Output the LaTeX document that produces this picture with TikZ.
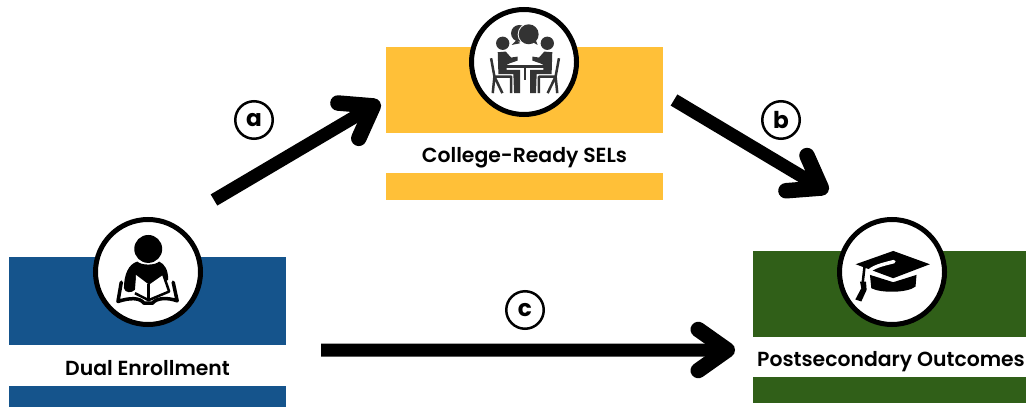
\documentclass[tikz,border=0pt]{standalone}
\usepackage{fontspec}
\setmainfont{Poppins}
\newfontfamily\bandfont{Poppins SemiBold}
\usetikzlibrary{arrows.meta}
\definecolor{enrollblue}{RGB}{21,84,140}
\definecolor{selyellow}{RGB}{255,192,56}
\definecolor{outgreen}{RGB}{48,95,24}
\definecolor{icongray}{RGB}{51,51,51}
\begin{document}
\begin{tikzpicture}
    \tikzstyle{proc} = [rectangle, minimum width=2.77cm, inner sep=0pt, outer sep=0pt]
    \tikzstyle{band} = [rectangle, fill=white, minimum width=2.77cm, minimum height=0.4cm, inner sep=0pt, outer sep=0pt, text=black, text height=0.19cm, text depth=0pt, font=\fontsize{5.8}{7}\bandfont]
    \tikzstyle{badge} = [circle, draw=black, fill=white, line width=0.05cm, minimum size=1.05cm, inner sep=0pt]
    \tikzstyle{tag} = [circle, draw=black, fill=white, line width=0.025cm, minimum size=0.375cm, inner sep=0pt, font=\fontsize{6.6}{8}\selectfont\bfseries]
    \tikzstyle{arrow} = [line width=0.13cm, -{Straight Barb[round, line width=0.155cm, length=0.29cm, width=0.41cm]}]
    \useasboundingbox (0,0) rectangle (10.26,4.07);
    % boxes
    \node (enroll) [proc, fill=enrollblue, minimum height=1.5cm] at (1.475,0.75) {};
    \node (enrolltxt) [band, minimum height=0.41cm] at (1.475,0.415) {Dual Enrollment};
    \node (sels) [proc, fill=selyellow, minimum height=1.53cm] at (5.245,2.835) {};
    \node (selstxt) [band] at (5.245,2.54) {College-Ready SELs};
    \node (outcome) [proc, fill=outgreen, minimum width=2.73cm, minimum height=1.52cm] at (8.895,0.8) {};
    \node (outcometxt) [band, minimum width=2.73cm] at (8.895,0.5) {\hspace*{0.03cm}Postsecondary Outcomes};
    % circles
    \node (enrollc) [badge] at (1.48,1.35) {};
    \node (selsc) [badge] at (5.24,3.45) {};
    \node (outcomec) [badge] at (8.92,1.35) {};
    % arrows
    \coordinate (astart) at (2.14,2.07);
    \coordinate (bstart) at (6.74,3.07);
    \draw[arrow] (astart) -- ([shift={(-0.06,0.215)}]sels.west);
    \draw[arrow] (bstart) -- ([shift={(-0.615,0.59)}]outcome.north);
    \draw[arrow] ([shift={(0.35,-0.18)}]enroll.east) -- ([shift={(-0.18,-0.23)}]outcome.west);
    \node (taga) [tag] at (2.54,2.87) {a};
    \node (tagb) [tag] at (7.81,2.87) {b};
    \node (tagc) [tag] at (5.25,0.97) {c};
    % reader
    \begin{scope}[shift={(1.00,1.82)},x=0.00333cm,y=-0.00333cm]
        \fill[black] (145,72) circle (42);
        \fill[black] (72,190) .. controls (72,150) and (85,118) .. (112,110) .. controls (125,122) and (165,122) .. (178,110) .. controls (195,118) and (205,135) .. (205,165) -- (148,190) -- (108,160) -- (105,195) .. controls (95,205) and (75,205) .. (72,190) -- cycle;
        \fill[white] (108,150) -- (145,178) -- (145,222) -- (108,198) -- cycle;
        \fill[white] (150,178) -- (190,150) -- (205,198) -- (150,222) -- cycle;
        \draw[black, line width=0.03cm, line join=round] (146,178) -- (146,228);
        \draw[black, line width=0.035cm, line join=round, line cap=round] (64,172) -- (54,230) .. controls (90,218) and (120,218) .. (132,235) -- (158,235) .. controls (170,218) and (205,218) .. (232,228) -- (220,172);
        \draw[black, line width=0.025cm, line join=round] (105,205) -- (146,226) -- (208,200) -- (190,148);
    \end{scope}
    % table talk
    \begin{scope}[shift={(5.25,3.92)},x=0.00333cm,y=-0.00333cm]
        \fill[icongray] (-17,55) circle (25);
        \fill[white] (11,58) circle (33);
        \fill[icongray] (11,58) circle (30);
        \fill[icongray] (20,80) -- (38,90) -- (30,70) -- cycle;
        \fill[icongray] (-25,75) -- (-40,90) -- (-15,85) -- cycle;
        \draw[icongray, line width=0.025cm] (-62,155) -- (62,155);
        \fill[icongray] (-3,155) -- (3,155) -- (3,195) -- (-3,195) -- cycle;
        \foreach \sgn in {1,-1} {
            \begin{scope}[xscale=\sgn]
                \fill[icongray] (-67,85) circle (20);
                \fill[icongray] (-82,112) -- (-58,110) -- (-42,128) -- (-22,125) -- (-22,137) -- (-45,145) -- (-55,150) -- (-55,165) -- (-15,165) -- (-15,235) -- (-33,235) -- (-35,178) -- (-80,178) -- cycle;
                \draw[icongray, line width=0.025cm, line join=round] (-102,130) -- (-92,185) -- (-68,235) (-92,185) -- (-42,185) -- (-42,235) (-92,185) -- (-97,235);
            \end{scope}
        }
    \end{scope}
    % cap
    \begin{scope}[shift={(8.44,1.82)},x=0.00333cm,y=-0.00333cm]
        \fill[black] (148,78) -- (258,118) -- (148,160) -- (35,118) -- cycle;
        \fill[black] (78,150) -- (148,172) -- (218,150) -- (215,185) .. controls (190,205) and (110,205) .. (82,190) -- cycle;
        \draw[white, line width=0.035cm, line cap=round] (150,110) .. controls (120,118) and (80,125) .. (68,148);
        \draw[black, line width=0.025cm] (62,122) -- (56,175);
        \fill[black] (48,170) -- (66,170) -- (68,195) -- (52,230) -- (34,224) -- (52,190) -- cycle;
    \end{scope}
\end{tikzpicture}
\end{document}
